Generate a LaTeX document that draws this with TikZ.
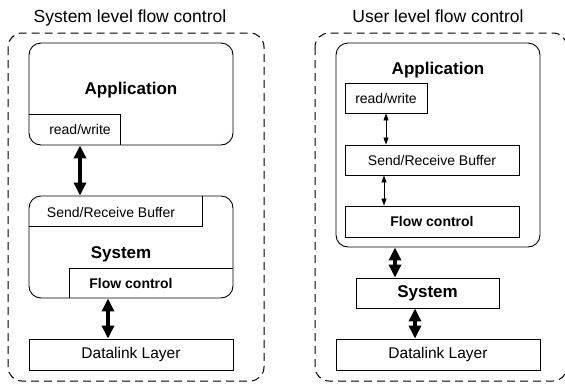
\documentclass[tikz,border=0pt]{standalone}
\usepackage{fontspec}
\setmainfont{Liberation Sans}
\usetikzlibrary{arrows.meta}

\tikzset{
  linea/.style={line width=0.9pt, draw=black},
  caja/.style={linea, draw, inner sep=0pt},
  redonda/.style={caja, rounded corners=12pt},
  marco/.style={line width=1pt, draw=black, dash pattern=on 8pt off 5pt, rounded corners=14pt},
  titulo/.style={font=\fontsize{17.5}{20}\selectfont, inner sep=0pt},
  grande/.style={font=\fontsize{17}{20}\selectfont\bfseries, inner sep=0pt},
  texto/.style={font=\fontsize{14}{16}\selectfont, inner sep=0pt},
  textob/.style={font=\fontsize{14}{16}\selectfont\bfseries, inner sep=0pt},
  capa/.style={font=\fontsize{15.5}{18}\selectfont},
  flecha/.style={line width=4pt, {Triangle[width=12pt,length=13pt]}-{Triangle[width=12pt,length=13pt]}},
  flechita/.style={line width=0.8pt, {Triangle[width=5pt,length=7pt]}-{Triangle[width=5pt,length=7pt]}}
}

\begin{document}
\begin{tikzpicture}[x=1pt,y=-1pt]
    % Fijar el tamaño del dibujo
    \useasboundingbox (0,0) rectangle (565,384);

    % Control de flujo a nivel de sistema
    \node[titulo, anchor=base] (stit) at (130,22) {System level flow control};
    \draw[marco] (8,33) rectangle (264,381);

    % Aplicación con su parte de lectura/escritura
    \node[redonda, minimum width=204pt, minimum height=102pt] (sapp) at (131,94) {};
    \node[grande, anchor=base] (sapptxt) at (131,94) {Application};
    \node[texto, anchor=base] (srw) at (80,134) {read/write};
    \draw[linea] ([yshift=31pt]sapp.south west) -| ([xshift=92pt]sapp.south west);

    % Sistema con el buffer y el control de flujo
    \node[redonda, minimum width=204pt, minimum height=102pt] (ssys) at (131,247) {};
    \node[texto, anchor=base] (sbuf) at (111,217) {Send/Receive Buffer};
    \draw[linea] ([yshift=-31pt]ssys.north west) -| ([xshift=174pt]ssys.north west);
    \node[grande, anchor=base] (ssystxt) at (121,258) {System};
    \node[textob, anchor=base] (sfl) at (131,288) {Flow control};
    \draw[linea] ([xshift=41pt]ssys.south west) |- ([yshift=30pt]ssys.south east);

    % Capa de enlace
    \node[caja, capa, minimum width=204pt, minimum height=31pt] (sdl) at (131,354.5) {Datalink Layer};

    % Flechas entre las capas
    \draw[flecha] (sapp.south -| srw) -- (ssys.north -| srw);
    \draw[flecha] ([xshift=-23pt]ssys.south) -- ([xshift=-23pt]sdl.north);

    % Control de flujo a nivel de usuario
    \node[titulo, anchor=base] (utit) at (438,22) {User level flow control};
    \draw[marco] (315,33) rectangle (567,381);

    % Aplicación con sus tres partes
    \node[redonda, minimum width=204pt, minimum height=204pt] (uapp) at (438,145) {};
    \node[grande, anchor=base] (uapptxt) at (438,74) {Application};
    \node[caja, texto, minimum width=82pt, minimum height=30pt] (urw) at (386,98) {read/write};
    \node[caja, texto, minimum width=174pt, minimum height=30pt] (ubuf) at (432,160) {Send/Receive Buffer};
    \node[caja, textob, minimum width=174pt, minimum height=31pt] (ufl) at (432,221.5) {Flow control};

    % Sistema y capa de enlace
    \node[caja, grande, minimum width=143pt, minimum height=30pt] (usys) at (427.5,293) {System};
    \node[caja, capa, minimum width=204pt, minimum height=31pt] (udl) at (438,354.5) {Datalink Layer};

    % Flechas entre las partes
    \draw[flechita] (urw.south) -- (urw.south |- ubuf.north);
    \draw[flechita] ([xshift=-48pt]ubuf.south) -- ([xshift=-48pt]ufl.north);
    \draw[flecha] ([xshift=-43pt]uapp.south) -- ([xshift=-32.5pt]usys.north);
    \draw[flecha] ([xshift=-12.5pt]usys.south) -- ([xshift=-23pt]udl.north);
\end{tikzpicture}
\end{document}
